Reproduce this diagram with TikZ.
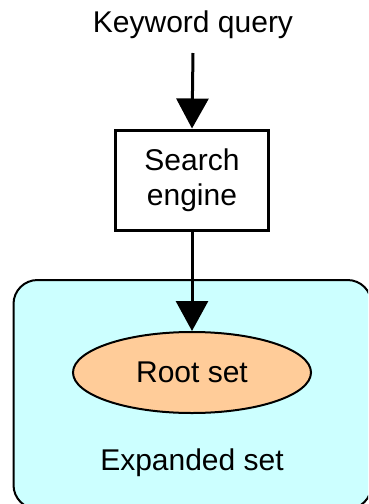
\documentclass[tikz,border=0pt]{standalone}
\usepackage{fontspec}
\setmainfont{Liberation Sans}
\usetikzlibrary{arrows.meta,shapes.geometric}
\definecolor{setcyan}{HTML}{CCFFFF}
\definecolor{rootpeach}{HTML}{FFCC99}
\tikzset{
  lbl/.style={font=\fontsize{30}{34}\selectfont, inner sep=0pt, align=center},
  engbox/.style={draw, line width=3pt, fill=white, minimum width=153pt, minimum height=100pt, inner sep=0pt, align=center, font=\fontsize{30}{35}\selectfont},
  rootell/.style={ellipse, draw, line width=2pt, fill=rootpeach, minimum width=238pt, minimum height=81pt, inner sep=0pt, font=\fontsize{30}{34}\selectfont},
  setbox/.style={draw, line width=2pt, fill=setcyan, rounded corners=24pt, minimum width=358pt, minimum height=229pt, inner sep=0pt},
  flow/.style={line width=3pt, -{Triangle[width=32pt,length=30pt]}}
}
\begin{document}
\begin{tikzpicture}[x=1pt,y=-1pt]
\fill[white] (0,0) rectangle (368,504);
\clip (0,0) rectangle (368,504);
\node[setbox] (ex) at (192.5,394.5) {};
\node[lbl] (kw) at (193,25) {Keyword query};
\coordinate (qs) at (193,53);
\node[engbox] (se) at (192,180) {Search\\engine};
\node[rootell] (rs) at (192,372.5) {Root set};
\node[lbl] (es) at (192,463) {Expanded set};
\draw[flow] (qs) -- (se.north);
\draw[flow] (se.south) -- (rs.north);
\end{tikzpicture}
\end{document}
